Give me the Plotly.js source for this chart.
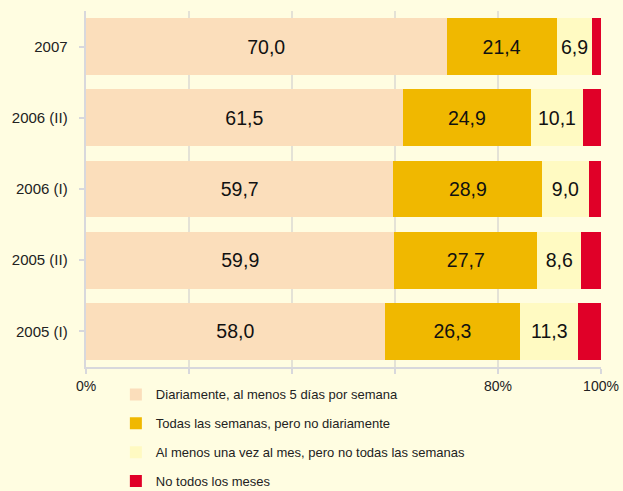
<!DOCTYPE html>
<html>
<head>
<meta charset="utf-8">
<script src="https://cdn.plot.ly/plotly-3.0.1.min.js"></script>
<style>html,body{margin:0;padding:0;background:#FFFDE1;}#chart{width:623px;height:491px;}</style>
</head>
<body>
<div id="chart"></div>
<script>
var categories = ["2005 (I)", "2005 (II)", "2006 (I)", "2006 (II)", "2007"];
var seriesNames = [
  "Diariamente, al menos 5 días por semana",
  "Todas las semanas, pero no diariamente",
  "Al menos una vez al mes, pero no todas las semanas",
  "No todos los meses"
];
var diariamente = [58.0, 59.9, 59.7, 61.5, 70.0];
var semanal = [26.3, 27.7, 28.9, 24.9, 21.4];
var mensual = [11.3, 8.6, 9.0, 10.1, 6.9];
var noMeses = [4.4, 3.8, 2.4, 3.5, 1.7];
var tickVals = [0, 20, 40, 60, 80, 100];
var tickText = ["0%", "", "", "", "80%", "100%"];
var colors = ["#FBDEBB", "#F0B800", "#FFFAC2", "#E00028"];

var values = [diariamente, semanal, mensual, noMeses];
var traces = values.map(function (v, i) {
  return {
    type: "bar",
    orientation: "h",
    y: categories,
    x: v,
    name: seriesNames[i],
    legendgroup: "g" + i,
    marker: {color: colors[i], line: {width: 0}},
    texttemplate: i < 3 ? "%{x:.1f}" : "",
    textposition: i < 3 ? "inside" : "none",
    insidetextanchor: "middle",
    textfont: {family: "Liberation Sans, Arial, sans-serif", size: 19.5, color: "#111"},
    constraintext: "none",
    hoverinfo: "x+name"
  };
});

var layout = {
  width: 623,
  height: 491,
  paper_bgcolor: "#FFFDE1",
  plot_bgcolor: "#FFFDE1",
  barmode: "stack",
  bargap: 0.2,
  separators: ",.",
  margin: {l: 86, r: 22, t: 11, b: 124, autoexpand: false},
  font: {family: "Liberation Sans, Arial, sans-serif", size: 13, color: "#222"},
  xaxis: {
    range: [0, 100],
    tickvals: tickVals,
    ticktext: tickText,
    showgrid: true,
    gridcolor: "#E4E2D6",
    gridwidth: 2,
    zeroline: false,
    showline: true,
    linecolor: "#D8D8DC",
    linewidth: 2,
    ticks: "outside",
    ticklen: 5,
    tickcolor: "#D8D8DC",
    tickwidth: 2,
    tickfont: {size: 14, color: "#222"},
    fixedrange: true
  },
  yaxis: {
    categoryorder: "array",
    categoryarray: categories,
    showline: true,
    linecolor: "#D8D8DC",
    linewidth: 2,
    ticks: "outside",
    ticklen: 5,
    tickcolor: "#D8D8DC",
    tickwidth: 2,
    tickfont: {size: 15, color: "#222"},
    ticksuffix: "  ",
    showgrid: false,
    fixedrange: true
  },
  showlegend: true,
  legend: {
    orientation: "v",
    traceorder: "grouped",
    x: 0.058,
    xanchor: "left",
    y: -0.035,
    yanchor: "top",
    bgcolor: "rgba(0,0,0,0)",
    tracegroupgap: 9,
    font: {size: 13, color: "#222"},
    itemwidth: 30
  }
};

Plotly.newPlot("chart", traces, layout, {displayModeBar: false, staticPlot: true});
</script>
</body>
</html>
